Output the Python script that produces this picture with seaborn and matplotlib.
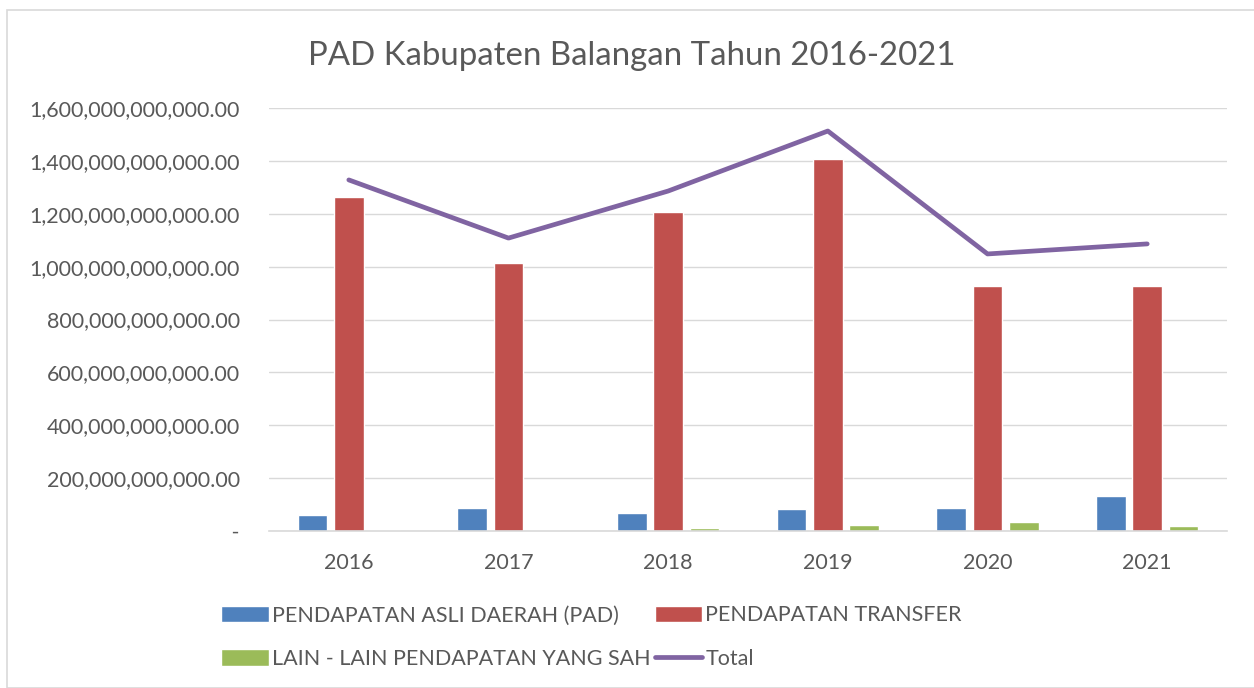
import numpy as np
import pandas as pd
import matplotlib
matplotlib.use("Agg")
import matplotlib.pyplot as plt
import matplotlib.ticker as mticker
from matplotlib.patches import Rectangle
import seaborn as sns

years = ["2016", "2017", "2018", "2019", "2020", "2021"]
pad = [60e9, 87e9, 68e9, 83e9, 87e9, 132e9]
transfer = [1262e9, 1014e9, 1207e9, 1407e9, 927e9, 927e9]
lain = [3e9, 3e9, 10e9, 22e9, 35e9, 20e9]
total = [1328e9, 1108e9, 1286e9, 1513e9, 1048e9, 1086e9]

s_pad = "PENDAPATAN ASLI DAERAH (PAD)"
s_tr = "PENDAPATAN TRANSFER"
s_lain = "LAIN - LAIN PENDAPATAN YANG SAH"

df = pd.DataFrame({
    "tahun": years * 3,
    "nilai": pad + transfer + lain,
    "jenis": [s_pad] * 6 + [s_tr] * 6 + [s_lain] * 6,
})

sns.set_style("white")
plt.rcParams["font.family"] = ["Lato", "DejaVu Sans"]
text_col = "#595959"

fig = plt.figure(figsize=(12.54, 6.88), dpi=100)
fig.patches.append(Rectangle((7 / 1254, 0), 1.0, 1 - 10 / 688, transform=fig.transFigure,
                             fill=False, edgecolor="#D9D9D9", linewidth=1.2))
ax = fig.add_axes([0.2145, 0.2282, 0.764, 0.6148])

palette = {s_pad: "#4F81BD", s_tr: "#C0504D", s_lain: "#9BBB59"}
sns.barplot(data=df, x="tahun", y="nilai", hue="jenis", palette=palette,
            width=0.68, gap=0.18, ax=ax, saturation=1, legend=True)
sns.lineplot(x=np.arange(len(years)), y=total, color="#8064A2", linewidth=3.4,
             ax=ax, label="Total")

ax.set_ylim(0, 1.6e12)
ax.set_xlim(-0.5, 5.5)
ax.yaxis.set_major_locator(mticker.MultipleLocator(2e11))
ax.yaxis.set_major_formatter(mticker.FuncFormatter(
    lambda v, p: " -" if v == 0 else f"{v:,.2f}"))
ax.grid(axis="y", color="#D9D9D9", linewidth=1)
ax.set_axisbelow(True)
for s in ["top", "right", "left"]:
    ax.spines[s].set_visible(False)
ax.spines["bottom"].set_color("#D9D9D9")
ax.spines["bottom"].set_linewidth(1.2)
ax.tick_params(axis="both", length=0, labelsize=15.5, labelcolor=text_col)
ax.tick_params(axis="x", pad=16)
ax.tick_params(axis="y", pad=21)
ax.set_xlabel("")
ax.set_ylabel("")

fig.text(0.504, 0.918, "PAD Kabupaten Balangan Tahun 2016-2021", ha="center", va="center",
         fontsize=23.8, color=text_col)

h, l = ax.get_legend_handles_labels()
idx = [l.index(s_pad), l.index(s_lain), l.index(s_tr), l.index("Total")]
ax.legend([h[i] for i in idx], [l[i] for i in idx], ncol=2, frameon=False,
          loc="upper left", bbox_to_anchor=(-0.07, -0.13), fontsize=15.5,
          labelcolor=text_col, handlelength=2.2, handleheight=0.8,
          handletextpad=0.15, columnspacing=0.2, labelspacing=1.1)

fig.savefig("out.png", dpi=100)
